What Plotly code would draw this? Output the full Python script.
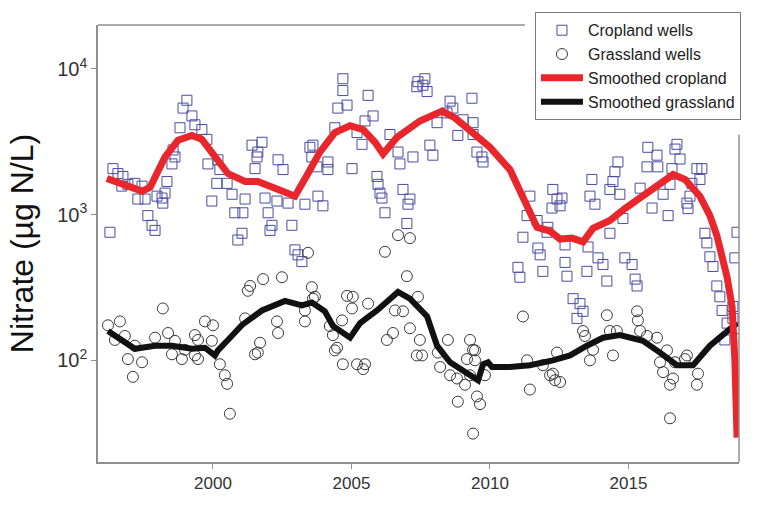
import plotly.graph_objects as go

# Individual well samples: cropland (year, nitrate ug N/L)
crop_year = [
    1996.28, 1996.39, 1996.57, 1996.75, 1996.71, 1996.93, 1997.18, 1997.44, 1997.29, 1997.55,
    1997.65, 1997.80, 1997.91, 1997.98, 1998.16, 1998.27, 1998.34, 1998.19, 1998.52, 1998.63,
    1998.56, 1998.81, 1998.92, 1999.06, 1999.24, 1999.35, 1999.60, 1999.78, 1999.82, 2000.18,
    2000.25, 1999.96, 2000.14, 2000.51, 2000.69, 2000.79, 2001.08, 2001.05, 2000.90, 2001.41,
    2001.62, 2001.77, 2001.59, 2001.52, 2001.16, 2001.88, 2001.99, 2002.13, 2002.31, 2002.35,
    2002.53, 2002.71, 2002.85, 2002.96, 2003.07, 2003.21, 2003.32, 2003.50, 2003.57, 2003.79,
    2003.97, 2002.06, 2004.69, 2004.69, 2004.84, 2004.51, 2005.60, 2005.78, 2005.49, 2004.40,
    2005.20, 2005.38, 2003.61, 2004.15, 2004.15, 2003.75, 2005.02, 2005.92, 2005.96, 2006.03,
    2006.10, 2006.21, 2006.39, 2006.68, 2006.75, 2007.22, 2006.86, 2007.11, 2007.04, 2007.00,
    2007.40, 2007.58, 2007.73, 2007.36, 2007.65, 2008.09, 2008.45, 2008.56, 2008.66, 2009.35,
    2009.03, 2008.84, 2009.39, 2009.39, 2009.53, 2009.71, 2009.75, 2007.83, 2007.94, 2011.44,
    2011.34, 2011.19, 2011.70, 2011.73, 2011.81, 2011.91, 2011.01, 2011.08, 2012.27, 2012.24,
    2012.06, 2012.42, 2012.53, 2012.09, 2013.68, 2013.61, 2013.79, 2014.44, 2014.33, 2014.33,
    2013.90, 2014.08, 2013.54, 2013.50, 2014.22, 2012.71, 2012.78, 2013.00, 2013.25, 2013.36,
    2013.14, 2012.71, 2015.70, 2016.03, 2016.75, 2016.68, 2016.86, 2015.67, 2016.06, 2016.57,
    2014.62, 2014.51, 2014.69, 2015.42, 2015.85, 2016.43, 2014.80, 2012.60, 2014.87, 2015.13,
    2015.24, 2015.31, 2016.25, 2016.50, 2017.11, 2017.15, 2017.47, 2017.65, 2017.58, 2017.29,
    2017.22, 2017.76, 2017.83, 2017.94, 2018.05, 2018.19, 2018.30, 2018.38, 2018.56, 2018.48,
    2018.77, 2018.77, 2018.92, 2018.84,
]
crop_val = [
    757, 2070, 1915, 1830, 1570, 1615, 1640, 1570, 1280, 1280,
    985, 845, 780, 1340, 1300, 1405, 1690, 1200, 2230, 2490,
    2780, 3950, 5390, 6100, 4760, 4140, 3840, 3290, 2230, 2380,
    2040, 1240, 1640, 1640, 1380, 1030, 1030, 745, 670, 3000,
    2690, 3140, 2490, 2070, 1280, 1300, 1030, 845, 1240, 2380,
    2040, 1200, 845, 573, 530, 476, 1180, 2900, 2490, 1340,
    1150, 780, 8570, 7110, 5650, 5390, 6590, 4760, 4400, 3950,
    3660, 3040, 3000, 2300, 2040, 2130, 2070, 1830, 1615, 1405,
    1300, 1030, 3550, 2690, 2230, 2490, 1490, 1280, 1180, 870,
    8180, 7740, 7000, 7560, 8570, 4280, 4990, 6010, 5390, 6300,
    4480, 3500, 4280, 3550, 2690, 2490, 2300, 3000, 2560, 1340,
    985, 700, 912, 590, 530, 408, 435, 372, 1490, 1110,
    757, 1280, 1150, 818, 1745, 1340, 1180, 1690, 1490, 745,
    505, 455, 600, 408, 350, 470, 378, 265, 245, 217,
    194, 620, 2900, 2560, 3040, 2820, 2410, 2130, 2130, 2070,
    2300, 1970, 1380, 1520, 1110, 985, 940, 1300, 505, 455,
    361, 324, 1380, 1615, 1200, 1100, 2070, 2070, 1745, 1640,
    1340, 745, 640, 514, 441, 324, 273, 220, 180, 138,
    234, 194, 757, 505,
]

# Individual well samples: grassland (year, nitrate ug N/L)
grass_year = [
    1996.21, 1996.64, 1996.46, 1996.82, 1996.93, 1997.11, 1997.44, 1997.18, 1998.19, 1997.91,
    1998.38, 1998.63, 1998.52, 1998.88, 1998.99, 1999.35, 1999.46, 1999.71, 2000.00, 1999.96,
    1999.35, 1999.46, 2000.25, 2000.43, 2000.51, 2000.61, 2001.16, 2001.34, 2001.26, 2001.81,
    2002.49, 2002.31, 2002.35, 2001.52, 2001.70, 2001.62, 2003.57, 2003.61, 2003.32, 2003.32,
    2003.43, 2006.21, 2007.11, 2006.68, 2007.00, 2003.68, 2004.84, 2005.05, 2005.02, 2005.60,
    2007.40, 2006.57, 2006.86, 2004.66, 2004.22, 2004.33, 2004.48, 2004.40, 2006.50, 2006.28,
    2007.11, 2007.47, 2007.36, 2007.55, 2004.69, 2005.20, 2005.42, 2005.49, 2008.12, 2008.48,
    2009.28, 2009.46, 2009.17, 2008.20, 2008.56, 2008.81, 2009.10, 2008.84, 2009.53, 2009.64,
    2009.82, 2009.39, 2011.19, 2011.44, 2011.34, 2011.91, 2012.17, 2012.35, 2012.42, 2014.22,
    2013.36, 2013.43, 2014.58, 2013.72, 2013.61, 2014.44, 2012.27, 2009.39, 2009.46, 2009.28,
    2015.31, 2015.34, 2014.33, 2015.42, 2015.67, 2016.03, 2016.39, 2016.14, 2016.68, 2017.11,
    2017.04, 2016.25, 2016.61, 2016.50, 2017.51, 2017.47, 2016.50, 2018.95, 2012.53,
]
grass_val = [
    174, 185, 138, 147, 102, 77, 97, 126, 227, 143,
    154, 136, 110, 102, 118, 149, 138, 185, 174, 136,
    108, 102, 94, 79, 69, 43, 194, 324, 300, 361,
    372, 185, 154, 110, 132, 113, 318, 265, 220, 185,
    547, 556, 690, 723, 378, 273, 277, 273, 227, 245,
    273, 220, 217, 188, 172, 149, 122, 117, 154, 138,
    166, 138, 108, 108, 94, 94, 87, 94, 113, 138,
    138, 117, 102, 90, 79, 75, 68, 52, 56.5, 50,
    79, 31.4, 200, 63, 100, 92.5, 79, 73, 113, 204,
    159, 147, 159, 118, 100, 108, 81, 118, 100, 79,
    217, 188, 159, 159, 147, 143, 117, 97, 97, 108,
    102, 83, 75, 68, 81, 68, 40, 166, 71,
]

# Smoothed trends
smooth_crop_year = [
    1996.17, 1996.82, 1997.44, 1997.73, 1998.27, 1998.74, 1999.24, 1999.60, 2000.07, 2000.54,
    2001.16, 2001.62, 2002.24, 2002.96, 2003.43, 2003.86, 2004.40, 2004.95, 2005.42, 2005.85,
    2006.14, 2006.64, 2007.47, 2008.27, 2008.74, 2009.17, 2010.00, 2010.72, 2011.19, 2011.70,
    2012.17, 2012.53, 2012.96, 2013.36, 2013.72, 2014.33, 2014.87, 2015.52, 2016.14, 2016.61,
    2017.04, 2017.58, 2017.94, 2018.19, 2018.56, 2018.74, 2018.84, 2018.92,
]
smooth_crop_val = [
    1770, 1615, 1450, 1540, 2490, 3240, 3500, 3290, 2490, 1915,
    1690, 1690, 1520, 1340, 1915, 2690, 3660, 4080, 3840, 3140,
    2610, 3390, 4400, 5140, 4610, 3950, 2900, 2040, 1280, 818,
    770, 680, 690, 650, 805, 912, 1100, 1340, 1615, 1885,
    1745, 1340, 985, 720, 372, 234, 102, 29.5,
]
smooth_grass_year = [
    1996.21, 1996.71, 1997.18, 1997.91, 1998.52, 1999.24, 1999.71, 2000.07, 2000.18, 2000.54,
    2001.05, 2001.77, 2002.60, 2003.21, 2003.57, 2004.04, 2004.33, 2004.95, 2005.31, 2005.92,
    2006.68, 2007.11, 2007.73, 2008.09, 2008.56, 2009.57, 2009.75, 2009.93, 2010.07, 2010.72,
    2011.44, 2012.27, 2012.89, 2013.50, 2014.08, 2014.69, 2015.52, 2016.14, 2016.75, 2017.33,
    2017.94, 2018.92,
]
smooth_grass_val = [
    159, 138, 120, 126, 126, 120, 122, 108, 117, 138,
    175, 220, 256, 238, 249, 217, 172, 143, 180, 220,
    295, 265, 200, 126, 97, 73, 94, 97, 90, 90,
    92.5, 100, 108, 126, 143, 149, 136, 113, 92.5, 92.5,
    126, 180,
]

x_ticks = [2000, 2005, 2010, 2015]
y_ticks = [100, 1000, 10000]
y_tick_text = ["10<sup>2</sup>", "10<sup>3</sup>", "10<sup>4</sup>"]

frame_color = "#8f8f8f"

fig = go.Figure()
fig.add_trace(go.Scatter(
    x=crop_year, y=crop_val, mode="markers", name="Cropland wells", legendrank=1,
    marker=dict(symbol="square-open", size=10, color="#4b4ba3", line=dict(width=1)),
))
fig.add_trace(go.Scatter(
    x=grass_year, y=grass_val, mode="markers", name="Grassland wells", legendrank=2,
    marker=dict(symbol="circle-open", size=11, color="#3a3a3a", line=dict(width=1)),
))
fig.add_trace(go.Scatter(
    x=smooth_grass_year, y=smooth_grass_val, mode="lines", name="Smoothed grassland",
    legendrank=4, line=dict(color="#111111", width=6),
))
fig.add_trace(go.Scatter(
    x=smooth_crop_year, y=smooth_crop_val, mode="lines", name="Smoothed cropland",
    legendrank=3, line=dict(color="#e8262b", width=7),
))

fig.update_layout(
    width=759, height=505,
    margin=dict(l=98, r=20, t=25, b=33),
    paper_bgcolor="white", plot_bgcolor="white",
    font=dict(family="Liberation Sans, Arial, sans-serif", color="#222"),
    showlegend=True,
    legend=dict(
        x=0.6817, y=1.029, xanchor="left", yanchor="top",
        bgcolor="white", bordercolor="#7a7a7a", borderwidth=1,
        font=dict(size=16, color="#222"), itemwidth=42, tracegroupgap=0,
    ),
    xaxis=dict(
        range=[1995.85, 2018.99], tickvals=x_ticks, ticks="outside", ticklen=5,
        tickcolor=frame_color, showline=True, linecolor=frame_color, linewidth=1.5,
        showgrid=False, zeroline=False,
        tickfont=dict(family="Liberation Sans Narrow, Arial Narrow, sans-serif", size=17, color="#333"),
    ),
    yaxis=dict(
        type="log", range=[1.302, 4.302], tickvals=y_ticks, ticktext=y_tick_text,
        ticks="outside", ticklen=5, tickcolor=frame_color, showline=True,
        linecolor=frame_color, linewidth=1.5, showgrid=False, zeroline=False,
        tickfont=dict(size=20, color="#333"),
        title=dict(text="Nitrate (µg N/L)", font=dict(size=32, color="#111"), standoff=14),
    ),
    shapes=[
        # partial top and right edges of the frame (interrupted by the legend)
        dict(type="line", xref="paper", yref="paper", x0=0, x1=0.666, y0=1, y1=1,
             line=dict(color=frame_color, width=1.5)),
        dict(type="line", xref="paper", yref="paper", x0=1, x1=1, y0=0, y1=0.749,
             line=dict(color=frame_color, width=1.5)),
    ],
)

fig.write_html("out.html")
